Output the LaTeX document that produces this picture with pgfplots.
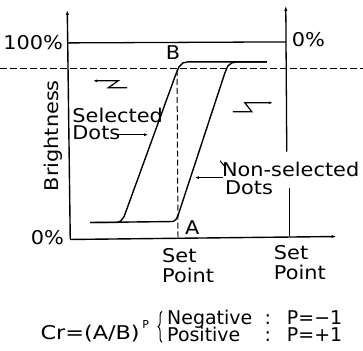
\documentclass[border=0pt]{standalone}
\usepackage{pgfplots}
\pgfplotsset{compat=1.18}
\usepackage{fontspec}
\setmainfont{DejaVu Sans}
\newfontfamily\lblfont[FakeStretch=1.1]{DejaVu Sans}
\usetikzlibrary{arrows.meta,decorations.pathreplacing}
\tikzset{lbl/.style={inner sep=0pt, font=\lblfont\fontsize{19}{21}\selectfont},
         frm/.style={inner sep=0pt, font=\fontsize{19}{21}\selectfont}}
\begin{document}
\begin{tikzpicture}
\begin{axis}[
  scale only axis, width=363pt, height=351pt,
  xmin=0, xmax=363, ymin=0, ymax=351, y dir=reverse,
  hide axis, clip=false,
]
\path (axis cs:0,0) rectangle (axis cs:363,351);
% selected dots curve
\addplot[black, line width=1.4pt] coordinates {
 (90,223) (118,223) (121,221) (124,217) (176,74) (179,67) (183,63) (188,62) (267,62)};
% non-selected dots curve
\addplot[black, line width=1.4pt] coordinates {
 (90,223) (173,222) (176,220) (178,216) (225,73) (228,66) (232,63) (237,62) (267,62)};
% axes
\draw[line width=1.4pt, -{Latex[length=7pt,width=3pt]}] (axis cs:70,240) -- (axis cs:67,8);
\draw[line width=1.4pt, -{Latex[length=7pt,width=3pt]}] (axis cs:70,240) -- (axis cs:339,237);
\draw[line width=1.3pt] (axis cs:67,43) -- (axis cs:286,42);
\draw[line width=1.3pt, -{Latex[length=7pt,width=3pt]}] (axis cs:287,152) -- (axis cs:286,4);
\draw[line width=1.3pt] (axis cs:290,188) -- (axis cs:290,237);
% dashed lines
\draw[line width=0.8pt, dash pattern=on 7pt off 3pt] (axis cs:0,69) -- (axis cs:363,69);
\draw[line width=1pt, dash pattern=on 6pt off 3pt] (axis cs:178,238) -- (axis cs:177,70);
% shift symbols
\draw[line width=1.2pt, -{Latex[length=4pt,width=3pt]}] (axis cs:127,88) -- (axis cs:108,88) -- (axis cs:118,81) -- (axis cs:93,81);
\draw[line width=1.2pt, -{Latex[length=4pt,width=3pt]}] (axis cs:233,112) -- (axis cs:252,112) -- (axis cs:245,103) -- (axis cs:273,103);
% leaders
\draw[line width=1pt, -{Latex[length=4pt,width=3pt]}] (axis cs:117,135) -- (axis cs:148,135);
\draw[line width=1pt, -{Latex[length=4pt,width=3pt]}] (axis cs:223,178) -- (axis cs:195,178);
\draw[line width=1pt] (axis cs:220,161) -- (axis cs:225,167);
% brace
\draw[line width=1pt, decorate, decoration={brace, amplitude=4pt}] (axis cs:162,343) -- (axis cs:162,312);
% text
\node[lbl, anchor=east] at (axis cs:63,43) {100\%};
\node[lbl, anchor=west] at (axis cs:292,40) {0\%};
\node[lbl, anchor=east] at (axis cs:64,238) {0\%};
\node[lbl, rotate=90, anchor=base] at (axis cs:58,136) {Brightness};
\node[lbl, anchor=base] at (axis cs:173,60) {B};
\node[lbl, anchor=base west] at (axis cs:185,235) {A};
\node[lbl, anchor=base west] at (axis cs:162,263) {Set};
\node[lbl, anchor=base west] at (axis cs:162,283) {Point};
\node[lbl, anchor=base west] at (axis cs:274,260) {Set};
\node[lbl, anchor=base west] at (axis cs:274,280) {Point};
\node[lbl, anchor=base west] at (axis cs:72,123) {Selected};
\node[lbl, anchor=base west] at (axis cs:72,140) {Dots};
\node[lbl, anchor=base west] at (axis cs:222,177) {Non-selected};
\node[lbl, anchor=base west] at (axis cs:225,195) {Dots};
\node[frm, anchor=base west] at (axis cs:40,340) {\scalebox{1.18}[1]{Cr=(A/B)}};
\node[inner sep=0pt, anchor=base west, font=\fontsize{11}{12}\selectfont] at (axis cs:142,329) {P};
\node[frm, anchor=base west] at (axis cs:167,325) {Negative};
\node[frm, anchor=base] at (axis cs:268,325) {:};
\node[frm, anchor=base west] at (axis cs:287,325) {P=−1};
\node[frm, anchor=base west] at (axis cs:167,342) {Positive};
\node[frm, anchor=base] at (axis cs:268,342) {:};
\node[frm, anchor=base west] at (axis cs:287,342) {P=+1};
\end{axis}
\end{tikzpicture}
\end{document}
